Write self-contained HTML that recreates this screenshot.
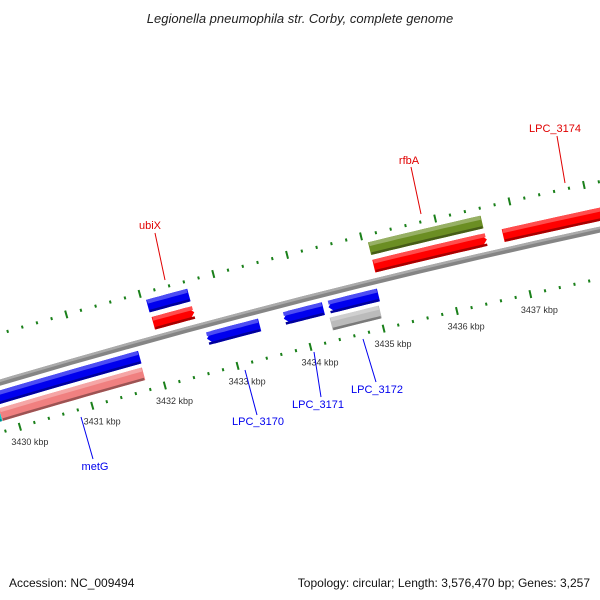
<!DOCTYPE html>
<html><head><meta charset="utf-8"><style>
html,body{margin:0;padding:0;background:#fff}
svg{display:block}
text{font-family:"Liberation Sans","DejaVu Sans",sans-serif}
</style></head><body>
<svg id="map" width="600" height="600" viewBox="0 0 600 600" xmlns="http://www.w3.org/2000/svg">
<text x="300" y="23" text-anchor="middle" font-size="13" font-style="italic" fill="#222">Legionella pneumophila str. Corby, complete genome</text>
<g id="rulers"></g>
<g id="backbone"></g>
<g id="features"></g>
<g id="labels"></g>
<text x="9" y="587" font-size="12" fill="#111">Accession: NC_009494</text>
<text x="590" y="587" text-anchor="end" font-size="12" fill="#111">Topology: circular; Length: 3,576,470 bp; Genes: 3,257</text>
</svg>
<script>
// feature data (kbp)
const featStart = [3429.5, 3429.6, 3429.80, 3432.07, 3432.06, 3432.70, 3433.75, 3434.36, 3434.34, 3435.07, 3435.07, 3436.82];
const featEnd   = [3431.78, 3429.80, 3431.77, 3432.63, 3432.62, 3433.42, 3434.29, 3435.04, 3435.01, 3436.59, 3436.60, 3438.6];
const featTrack = [-1, -2, -2, 1, 2, -1, -1, -1, -2, 2, 1, 1];
const featDir   = [0, 0, 0, 1, 0, -1, -1, -1, 0, 0, 1, 0];
const featColor = ["#0000ee","#00cccc","#f08080","#ff0000","#0000ee","#0000ee","#0000ee","#0000ee","#bbbbbb","#6b8e23","#ff0000","#ff0000"];
const featName  = ["metG-neighbour","cyan-feature","metG","ubiX","blue-feature","LPC_3170","LPC_3171","LPC_3172","gray-feature","rfbA","rfbA-neighbour","LPC_3174"];
const tickLabels = ["3430 kbp","3431 kbp","3432 kbp","3433 kbp","3434 kbp","3435 kbp","3436 kbp","3437 kbp"];
const tickKbp = [3430,3431,3432,3433,3434,3435,3436,3437];

const CX=2318, CY=8220, R=8173;
const A0=-106.43, S=0.5314;
function ang(kbp){return (A0+(kbp-3430)*S)*Math.PI/180;}
function P(kbp,r){const a=ang(kbp);return [CX+r*Math.cos(a),CY+r*Math.sin(a)];}
const NS="http://www.w3.org/2000/svg";
function mk(tag,attrs,parent){const e=document.createElementNS(NS,tag);for(const k in attrs)e.setAttribute(k,attrs[k]);parent.appendChild(e);return e;}
function band(k0,k1,r0,r1,dir){
  const pts=[];const n=12;const mid=(r0+r1)/2;const tip=0.08;
  let a=k0,b=k1;
  if(dir===1)b=k1-tip; if(dir===-1)a=k0+tip;
  for(let i=0;i<=n;i++)pts.push(P(a+(b-a)*i/n,r1));
  if(dir===1)pts.push(P(k1,mid));
  for(let i=n;i>=0;i--)pts.push(P(a+(b-a)*i/n,r0));
  if(dir===-1)pts.push(P(k0,mid));
  return pts.map(p=>p[0].toFixed(1)+","+p[1].toFixed(1)).join(" ");
}
function shade(c,f){const n=parseInt(c.slice(1),16);let r=n>>16,g=(n>>8)&255,b=n&255;
  const m=v=>Math.max(0,Math.min(255,Math.round(f>0?v+(255-v)*f:v*(1+f))));
  return "rgb("+m(r)+","+m(g)+","+m(b)+")";}

// rulers
const rul=document.getElementById('rulers');
[R+47,R-48].forEach((rr,ri)=>{
  for(let bp=3429400;bp<=3438600;bp+=200){
    const k=bp/1000;const major=bp%1000===0;const h=major?4:1.5;
    const p1=P(k,rr-h),p2=P(k,rr+h);
    const t=mk('line',{x1:p1[0],y1:p1[1],x2:p2[0],y2:p2[1],stroke:"#1a801a","stroke-width":2},rul);
    
    
  }
});
tickKbp.forEach((k,i)=>{
  const p=P(k,R-62);
  const t=mk('text',{x:p[0]+6,y:p[1]+5,"font-size":"9","fill":"#333","text-anchor":"middle"},rul);
  t.textContent=tickLabels[i];
  
  
});
// backbone
const bb=document.getElementById('backbone');
const bbp=band(3429.3,3438.8,R-3,R+3,0);
const b1=mk('polygon',{points:bbp,fill:"#858585"},bb);


const b2=mk('polygon',{points:band(3429.3,3438.8,R+0.5,R+3,0),fill:"#aaaaaa"},bb);


// features
const fg=document.getElementById('features');
const trackR={1:R+15,2:R+33,"-1":R-14,"-2":R-31};
featStart.forEach((s,i)=>{
  const rc=trackR[featTrack[i]];const h=6.5;
  const g=mk('g',{},fg);
  
  
  mk('polygon',{points:band(s,featEnd[i],rc-h,rc+h,featDir[i]),fill:featColor[i]},g);
  mk('polygon',{points:band(s+0.01,featEnd[i]-0.01,rc+h-4,rc+h,0),fill:shade(featColor[i],0.3)},g);
  mk('polygon',{points:band(s+0.01,featEnd[i]-0.01,rc-h,rc-h+2.5,0),fill:shade(featColor[i],-0.35)},g);
});
// labels
const lg=document.getElementById('labels');
const labs=[["ubiX",150,229,"#e00000",155,233,165,280],["rfbA",409,164,"#e00000",411,167,421,214],["LPC_3174",555,132,"#e00000",557,136,565,183],
["LPC_3170",258,425,"#0000ee",245,370,257,415],["LPC_3171",318,408,"#0000ee",314,352,321,397],["LPC_3172",377,393,"#0000ee",363,339,376,382],["metG",95,470,"#0000ee",81,417,93,459]];
labs.forEach(l=>{
  const ln=mk('line',{x1:l[4],y1:l[5],x2:l[6],y2:l[7],stroke:l[3],"stroke-width":1},lg);
  
  
  const t=mk('text',{x:l[1],y:l[2],"font-size":"11",fill:l[3],"text-anchor":"middle"},lg);
  t.textContent=l[0];
  
  
});
</script>
</body></html>
